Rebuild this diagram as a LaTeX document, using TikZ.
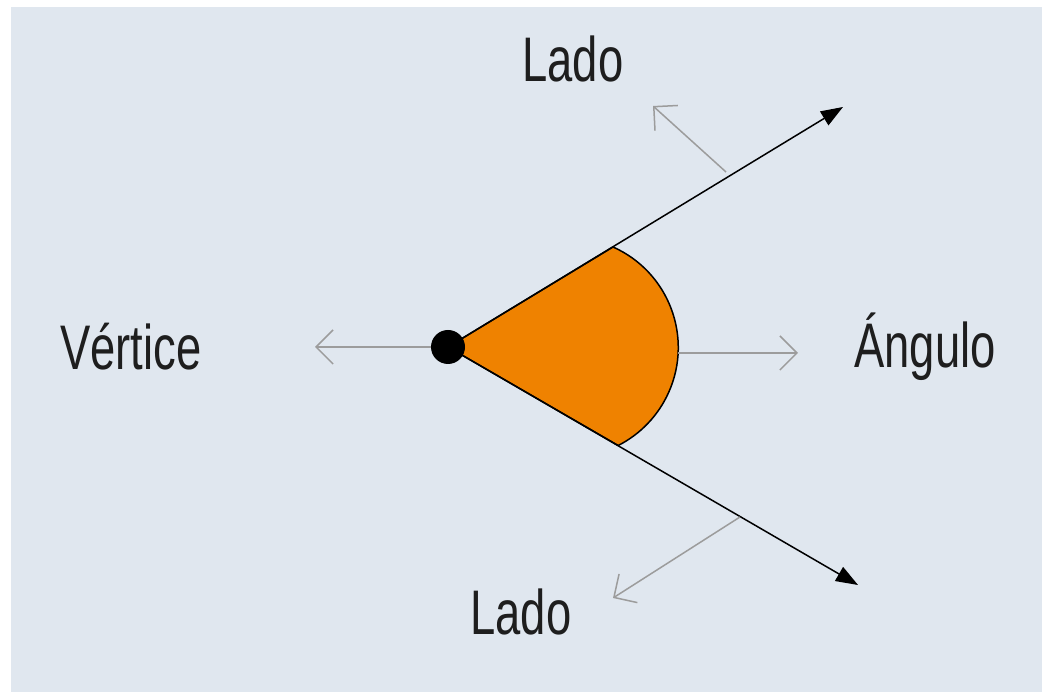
\documentclass[tikz,border=0pt]{standalone}
\usepackage{fontspec}
\setmainfont{Liberation Sans}[FakeStretch=0.72]
\usetikzlibrary{arrows.meta}
\definecolor{bgc}{HTML}{E0E7EF}
\definecolor{orng}{HTML}{EF8200}
\definecolor{grayarr}{HTML}{9C9C9C}
\definecolor{txt}{HTML}{1E1E1E}
\tikzset{
  lbl/.style={anchor=base, inner sep=0pt, text=txt, font=\fontsize{63}{63}\selectfont},
  ray/.style={line width=1.5pt, black, -{Triangle[length=22pt,width=16pt]}},
  pointer/.style={line width=1.5pt, grayarr, -{Straight Barb[length=17pt,width=34pt,line width=1.5pt]}},
  sector/.style={fill=orng, draw=black, line width=1.5pt, line join=round},
  vdot/.style={circle, fill=black, minimum size=34pt, inner sep=0pt}
}
\begin{document}
\begin{tikzpicture}[x=1pt,y=1pt]
\useasboundingbox (0,0) rectangle (1042,692);
\fill[bgc] (11,0) rectangle (1042,685);
% key points
\coordinate (Vc) at (448,345);
\coordinate (T1) at (843,585);
\coordinate (T2) at (858,107);
\coordinate (A) at (613,445);
% sector
\filldraw[sector] (Vc) -- (A) arc[start angle=66, end angle=-63, radius=110] -- cycle;
% rays
\draw[ray] (Vc) -- (T1);
\draw[ray] (Vc) -- (T2);
% vertex dot
\node[vdot] (V) at (Vc) {};
% labels
\node[lbl] (lado1) at (573,610) {Lado};
\node[lbl] (vert) at (131,322) {Vértice};
\node[lbl] (ang) at (925,324) {Ángulo};
\node[lbl] (lado2) at (521,57) {Lado};
% pointer anchors
\coordinate (P1s) at (726,520);
\coordinate (P1e) at (653,586);
\coordinate (P2s) at (740,175);
\coordinate (P2e) at (613,94);
\coordinate (P3s) at (678,339);
\coordinate (P3e) at (798,339);
\coordinate (P4e) at (315,345);
% pointers
\draw[pointer] (V.west) -- (P4e);
\draw[pointer] (P3s) -- (P3e);
\draw[pointer] (P1s) -- (P1e);
\draw[pointer] (P2s) -- (P2e);
\end{tikzpicture}
\end{document}
